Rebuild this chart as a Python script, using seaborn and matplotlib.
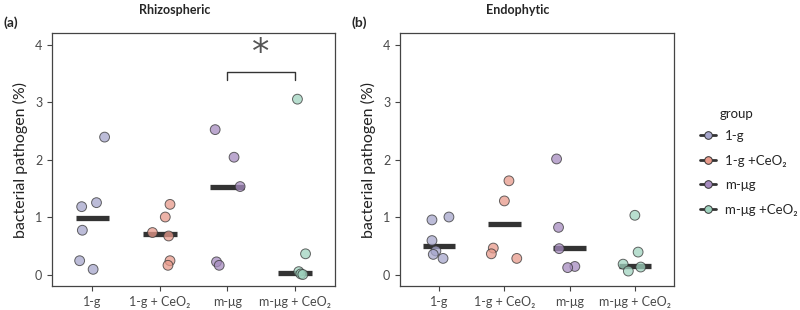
import numpy as np
import pandas as pd
import matplotlib
matplotlib.use('Agg')
import matplotlib.pyplot as plt
from matplotlib.lines import Line2D
import seaborn as sns

groups = ['1-g', '1-g + CeO₂', 'm-μg', 'm-μg + CeO₂']
legend_labels = ['1-g', '1-g +CeO₂', 'm-μg', 'm-μg +CeO₂']

# values, per group
rhizo_vals = [
    [2.39, 1.25, 1.18, 0.77, 0.24, 0.09],
    [1.22, 1.00, 0.73, 0.67, 0.24, 0.16],
    [2.52, 2.04, 1.53, 0.22, 0.16],
    [3.05, 0.36, 0.05, 0.01, 0.00],
]
endo_vals = [
    [1.00, 0.95, 0.59, 0.41, 0.35, 0.28],
    [1.63, 1.28, 0.46, 0.36, 0.28],
    [2.01, 0.82, 0.45, 0.14, 0.12],
    [1.03, 0.39, 0.18, 0.06, 0.13],
]
# horizontal bars (median) as drawn
rhizo_bar = [0.98, 0.70, 1.53, 0.03]
endo_bar = [0.50, 0.87, 0.46, 0.15]

# horizontal jitter of each point, as seen in the picture
rhizo_jit = [
    [0.18, 0.06, -0.16, -0.15, -0.19, 0.01],
    [0.15, 0.08, -0.11, 0.13, 0.15, 0.12],
    [-0.18, 0.10, 0.19, -0.16, -0.12],
    [0.04, 0.16, 0.06, 0.09, 0.12],
]
endo_jit = [
    [0.15, -0.11, -0.11, -0.05, -0.09, 0.06],
    [0.07, 0.00, -0.17, -0.20, 0.19],
    [-0.20, -0.17, -0.16, 0.08, -0.03],
    [0.00, 0.05, -0.18, -0.10, 0.09],
]

palette = ['#a6a6cc', '#e89a8b', '#a68bbf', '#a0d3bf']
edge = '#333333'

sns.set_style('white')
plt.rcParams['font.family'] = ['Lato', 'DejaVu Sans']


def make_df(vals, jit):
    rows = []
    for gi, (vs, js) in enumerate(zip(vals, jit)):
        for v, j in zip(vs, js):
            rows.append({'group': groups[gi], 'x': gi + j, 'value': v})
    return pd.DataFrame(rows)


def draw_panel(ax, vals, jit, bars):
    df = make_df(vals, jit)
    pos = np.arange(len(groups))
    ax.hlines(bars, pos - 0.25, pos + 0.25, color=edge, lw=3.8, zorder=2)
    sns.scatterplot(data=df, x='x', y='value', hue='group', hue_order=groups,
                    palette=palette, s=50, alpha=0.75, edgecolor=edge, linewidth=0.7,
                    legend=False, ax=ax, zorder=3)
    ax.set_xlim(-0.6, 3.6)
    ax.set_ylim(-0.2, 4.2)
    ax.set_xticks(range(4))
    ax.set_xticklabels(groups)
    ax.set_yticks(range(5))
    ax.set_xlabel('')
    ax.set_ylabel('bacterial pathogen (%)', fontsize=11.5, color='#222222', labelpad=5)
    ax.tick_params(axis='both', which='both', direction='out', length=3.5, width=0.8,
                   color='#444444', labelsize=9, labelcolor='#4a4a4a', bottom=True, left=True)
    for sp in ax.spines.values():
        sp.set_color('#444444')
        sp.set_linewidth(0.9)


fig = plt.figure(figsize=(8, 3.1), dpi=100)
ax_a = fig.add_axes([0.065, 0.0774, 0.354, 0.816])
ax_b = fig.add_axes([0.5, 0.0774, 0.3425, 0.816])

draw_panel(ax_a, rhizo_vals, rhizo_jit, rhizo_bar)
draw_panel(ax_b, endo_vals, endo_jit, endo_bar)

# significance bracket between m-μg and m-μg + CeO2
ax_a.plot([2, 2, 3, 3], [3.38, 3.52, 3.52, 3.38], color='#333333', lw=1)
ax_a.text(2.5, 3.56, '*', ha='center', va='bottom', fontsize=25, color='#555555',
          family='DejaVu Sans')

fig.text(175 / 800, 1 - 10 / 310, 'Rhizospheric', ha='center', va='center',
         fontsize=9, fontweight='bold')
fig.text(518 / 800, 1 - 10 / 310, 'Endophytic', ha='center', va='center',
         fontsize=9, fontweight='bold')
fig.text(4 / 800, 1 - 23 / 310, '(a)', ha='left', va='center', fontsize=10, fontweight='bold')
fig.text(352 / 800, 1 - 23 / 310, '(b)', ha='left', va='center', fontsize=10, fontweight='bold')

handles = [Line2D([0], [0], color=edge, lw=2, marker='o', markersize=5.5,
                  markerfacecolor=c, markeredgecolor=edge, markeredgewidth=0.7, alpha=1)
           for c in palette]
fig.text(720 / 800, 1 - 114 / 310, 'group', ha='left', va='center', fontsize=9.5, color='#222222')
leg = fig.legend(handles, legend_labels, loc='upper left', bbox_to_anchor=(700 / 800, 1 - 130 / 310),
                 frameon=False, fontsize=9.5, handlelength=1.2, handletextpad=0.7,
                 labelspacing=0.95, borderaxespad=0, borderpad=0)

fig.savefig('out.png', dpi=100)
